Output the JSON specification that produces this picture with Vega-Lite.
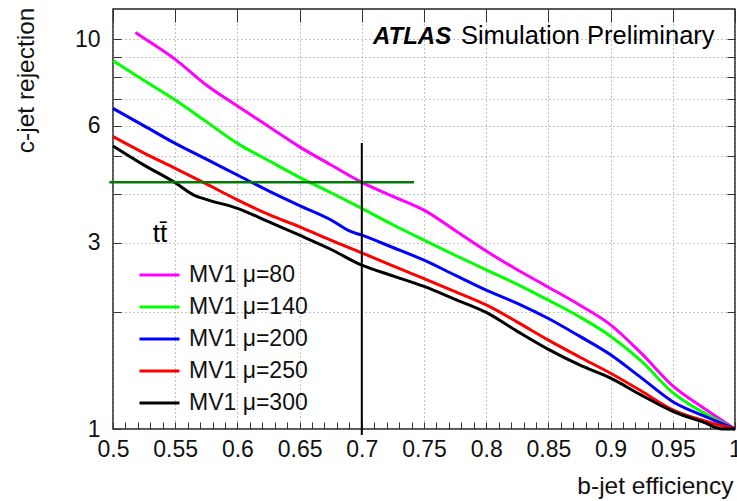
{
  "$schema": "https://vega.github.io/schema/vega-lite/v6.json",
  "width": 622,
  "height": 420,
  "padding": {"left": 12, "top": 7, "right": 0, "bottom": 3},
  "background": "white",
  "config": {
    "view": {"stroke": "#222", "strokeWidth": 1.5},
    "font": "Liberation Sans",
    "axis": {
      "labelFont": "Liberation Sans",
      "labelFontSize": 23,
      "labelColor": "#111",
      "titleFont": "Liberation Sans",
      "titleFontSize": 24.5,
      "titleFontWeight": "normal",
      "titleColor": "#111"
    }
  },
  "datasets": {
    "curves": [
      {"s": "MV1 μ=80", "x": 0.518, "y": 10.4},
      {"s": "MV1 μ=80", "x": 0.525, "y": 10.05},
      {"s": "MV1 μ=80", "x": 0.55, "y": 8.87},
      {"s": "MV1 μ=80", "x": 0.575, "y": 7.62},
      {"s": "MV1 μ=80", "x": 0.6, "y": 6.73},
      {"s": "MV1 μ=80", "x": 0.625, "y": 5.97},
      {"s": "MV1 μ=80", "x": 0.65, "y": 5.29},
      {"s": "MV1 μ=80", "x": 0.675, "y": 4.76},
      {"s": "MV1 μ=80", "x": 0.7, "y": 4.29},
      {"s": "MV1 μ=80", "x": 0.725, "y": 3.95},
      {"s": "MV1 μ=80", "x": 0.75, "y": 3.64},
      {"s": "MV1 μ=80", "x": 0.775, "y": 3.23},
      {"s": "MV1 μ=80", "x": 0.8, "y": 2.86},
      {"s": "MV1 μ=80", "x": 0.825, "y": 2.56},
      {"s": "MV1 μ=80", "x": 0.85, "y": 2.31},
      {"s": "MV1 μ=80", "x": 0.875, "y": 2.08},
      {"s": "MV1 μ=80", "x": 0.9, "y": 1.85},
      {"s": "MV1 μ=80", "x": 0.925, "y": 1.56},
      {"s": "MV1 μ=80", "x": 0.95, "y": 1.29},
      {"s": "MV1 μ=80", "x": 0.975, "y": 1.13},
      {"s": "MV1 μ=80", "x": 1.0, "y": 1.0},
      {"s": "MV1 μ=140", "x": 0.5, "y": 8.8},
      {"s": "MV1 μ=140", "x": 0.525, "y": 7.83},
      {"s": "MV1 μ=140", "x": 0.55, "y": 6.98},
      {"s": "MV1 μ=140", "x": 0.575, "y": 6.14},
      {"s": "MV1 μ=140", "x": 0.6, "y": 5.4},
      {"s": "MV1 μ=140", "x": 0.625, "y": 4.88},
      {"s": "MV1 μ=140", "x": 0.65, "y": 4.42},
      {"s": "MV1 μ=140", "x": 0.675, "y": 4.04},
      {"s": "MV1 μ=140", "x": 0.7, "y": 3.68},
      {"s": "MV1 μ=140", "x": 0.725, "y": 3.34},
      {"s": "MV1 μ=140", "x": 0.75, "y": 3.05},
      {"s": "MV1 μ=140", "x": 0.775, "y": 2.79},
      {"s": "MV1 μ=140", "x": 0.8, "y": 2.56},
      {"s": "MV1 μ=140", "x": 0.825, "y": 2.35},
      {"s": "MV1 μ=140", "x": 0.85, "y": 2.14},
      {"s": "MV1 μ=140", "x": 0.875, "y": 1.94},
      {"s": "MV1 μ=140", "x": 0.9, "y": 1.73},
      {"s": "MV1 μ=140", "x": 0.925, "y": 1.49},
      {"s": "MV1 μ=140", "x": 0.95, "y": 1.24},
      {"s": "MV1 μ=140", "x": 0.975, "y": 1.1},
      {"s": "MV1 μ=140", "x": 1.0, "y": 1.0},
      {"s": "MV1 μ=200", "x": 0.5, "y": 6.64},
      {"s": "MV1 μ=200", "x": 0.525, "y": 5.99},
      {"s": "MV1 μ=200", "x": 0.55, "y": 5.4},
      {"s": "MV1 μ=200", "x": 0.575, "y": 4.92},
      {"s": "MV1 μ=200", "x": 0.6, "y": 4.48},
      {"s": "MV1 μ=200", "x": 0.625, "y": 4.08},
      {"s": "MV1 μ=200", "x": 0.65, "y": 3.74},
      {"s": "MV1 μ=200", "x": 0.675, "y": 3.44},
      {"s": "MV1 μ=200", "x": 0.69, "y": 3.22},
      {"s": "MV1 μ=200", "x": 0.7, "y": 3.14},
      {"s": "MV1 μ=200", "x": 0.725, "y": 2.92},
      {"s": "MV1 μ=200", "x": 0.75, "y": 2.71},
      {"s": "MV1 μ=200", "x": 0.775, "y": 2.48},
      {"s": "MV1 μ=200", "x": 0.8, "y": 2.27},
      {"s": "MV1 μ=200", "x": 0.825, "y": 2.1},
      {"s": "MV1 μ=200", "x": 0.85, "y": 1.92},
      {"s": "MV1 μ=200", "x": 0.875, "y": 1.73},
      {"s": "MV1 μ=200", "x": 0.9, "y": 1.55},
      {"s": "MV1 μ=200", "x": 0.925, "y": 1.35},
      {"s": "MV1 μ=200", "x": 0.95, "y": 1.175},
      {"s": "MV1 μ=200", "x": 0.975, "y": 1.08},
      {"s": "MV1 μ=200", "x": 1.0, "y": 1.0},
      {"s": "MV1 μ=250", "x": 0.5, "y": 5.62},
      {"s": "MV1 μ=250", "x": 0.525, "y": 5.1},
      {"s": "MV1 μ=250", "x": 0.55, "y": 4.66},
      {"s": "MV1 μ=250", "x": 0.575, "y": 4.25},
      {"s": "MV1 μ=250", "x": 0.6, "y": 3.87},
      {"s": "MV1 μ=250", "x": 0.625, "y": 3.55},
      {"s": "MV1 μ=250", "x": 0.65, "y": 3.3},
      {"s": "MV1 μ=250", "x": 0.675, "y": 3.05},
      {"s": "MV1 μ=250", "x": 0.7, "y": 2.83},
      {"s": "MV1 μ=250", "x": 0.725, "y": 2.62},
      {"s": "MV1 μ=250", "x": 0.75, "y": 2.43},
      {"s": "MV1 μ=250", "x": 0.775, "y": 2.25},
      {"s": "MV1 μ=250", "x": 0.8, "y": 2.08},
      {"s": "MV1 μ=250", "x": 0.825, "y": 1.88},
      {"s": "MV1 μ=250", "x": 0.85, "y": 1.69},
      {"s": "MV1 μ=250", "x": 0.875, "y": 1.53},
      {"s": "MV1 μ=250", "x": 0.9, "y": 1.39},
      {"s": "MV1 μ=250", "x": 0.925, "y": 1.25},
      {"s": "MV1 μ=250", "x": 0.95, "y": 1.12},
      {"s": "MV1 μ=250", "x": 0.975, "y": 1.05},
      {"s": "MV1 μ=250", "x": 1.0, "y": 1.0},
      {"s": "MV1 μ=300", "x": 0.5, "y": 5.32},
      {"s": "MV1 μ=300", "x": 0.525, "y": 4.75},
      {"s": "MV1 μ=300", "x": 0.55, "y": 4.28},
      {"s": "MV1 μ=300", "x": 0.565, "y": 3.98},
      {"s": "MV1 μ=300", "x": 0.576, "y": 3.87},
      {"s": "MV1 μ=300", "x": 0.6, "y": 3.68},
      {"s": "MV1 μ=300", "x": 0.625, "y": 3.4},
      {"s": "MV1 μ=300", "x": 0.65, "y": 3.14},
      {"s": "MV1 μ=300", "x": 0.675, "y": 2.89},
      {"s": "MV1 μ=300", "x": 0.7, "y": 2.63},
      {"s": "MV1 μ=300", "x": 0.725, "y": 2.47},
      {"s": "MV1 μ=300", "x": 0.75, "y": 2.32},
      {"s": "MV1 μ=300", "x": 0.775, "y": 2.15},
      {"s": "MV1 μ=300", "x": 0.8, "y": 1.99},
      {"s": "MV1 μ=300", "x": 0.825, "y": 1.78},
      {"s": "MV1 μ=300", "x": 0.85, "y": 1.6},
      {"s": "MV1 μ=300", "x": 0.875, "y": 1.46},
      {"s": "MV1 μ=300", "x": 0.9, "y": 1.35},
      {"s": "MV1 μ=300", "x": 0.925, "y": 1.22},
      {"s": "MV1 μ=300", "x": 0.95, "y": 1.11},
      {"s": "MV1 μ=300", "x": 0.975, "y": 1.04},
      {"s": "MV1 μ=300", "x": 0.99, "y": 1.0},
      {"s": "MV1 μ=300", "x": 1.0, "y": 1.0}
    ],
    "hline": [{"x1": 0.497, "x2": 0.742, "y": 4.29}],
    "vline": [{"x": 0.7, "y1": 0.965, "y2": 5.41}],
    "atlas": [{"x": 0.709, "y": 9.71, "t": "ATLAS"}],
    "sim": [{"x": 0.7797, "y": 9.71, "t": "Simulation Preliminary"}],
    "ttbar": [{"x": 0.532, "y": 3.02, "t": "tt̄"}]
  },
  "resolve": {"axis": {"x": "independent", "y": "independent"}},
  "layer": [
    {
      "data": {"name": "curves"},
      "mark": {"type": "line", "strokeWidth": 3, "interpolate": "monotone"},
      "encoding": {
        "x": {
          "field": "x", "type": "quantitative",
          "scale": {"domain": [0.5, 1], "nice": false, "zero": false},
          "axis": {
            "orient": "bottom",
            "values": [0.5,0.51,0.52,0.53,0.54,0.55,0.56,0.57,0.58,0.59,0.6,0.61,0.62,0.63,0.64,0.65,0.66,0.67,0.68,0.69,0.7,0.71,0.72,0.73,0.74,0.75,0.76,0.77,0.78,0.79,0.8,0.81,0.82,0.83,0.84,0.85,0.86,0.87,0.88,0.89,0.9,0.91,0.92,0.93,0.94,0.95,0.96,0.97,0.98,0.99,1.0],
            "labelExpr": "abs(datum.value*20-round(datum.value*20))<1e-6 ? format(datum.value,'~g') : ''",
            "labelFlush": false,
            "labelOverlap": false,
            "labelBaseline": "top",
            "domain": false,
            "tickSize": -7,
            "tickColor": "#333",
            "labelPadding": 16,
            "grid": false,
            "title": "b-jet efficiency",
            "titleAlign": "right",
            "titleAngle": 0,
            "titleBaseline": "alphabetic",
            "titleX": 620,
            "titleY": 64
          }
        },
        "y": {
          "field": "y", "type": "quantitative",
          "scale": {"type": "log", "domain": [1, 11.94], "nice": false},
          "axis": {
            "orient": "left",
            "values": [1,2,3,4,5,6,7,8,9,10],
            "labelExpr": "(datum.value==1||datum.value==3||datum.value==6||datum.value==10) ? format(datum.value,'d') : ''",
            "labelFlush": false,
            "labelOverlap": false,
            "labelAlign": "right",
            "labelBaseline": "middle",
            "domain": false,
            "tickSize": -8,
            "tickColor": "#333",
            "labelPadding": 21,
            "grid": true,
            "gridColor": "#888",
            "gridDash": [1, 3],
            "title": "c-jet rejection",
            "titleAngle": -90,
            "titleAlign": "right",
            "titleBaseline": "alphabetic",
            "titleX": -80,
            "titleY": -2
          }
        },
        "color": {
          "field": "s", "type": "nominal",
          "scale": {
            "domain": ["MV1 μ=80", "MV1 μ=140", "MV1 μ=200", "MV1 μ=250", "MV1 μ=300"],
            "range": ["#ff00ff", "#00ff00", "#0000ff", "#ff0000", "#000000"]
          },
          "legend": {
            "orient": "none",
            "legendX": 25,
            "legendY": 250,
            "title": null,
            "symbolType": "stroke",
            "symbolSize": 1600,
            "symbolStrokeWidth": 3,
            "labelFont": "Liberation Sans",
            "labelFontSize": 23,
            "labelColor": "#111",
            "labelOffset": 8,
            "labelLimit": 0,
            "clipHeight": 32,
            "rowPadding": 0,
            "padding": 0
          }
        }
      }
    },
    {
      "data": {"name": "hline"},
      "mark": {"type": "rule", "color": "#007a00", "strokeWidth": 2.5},
      "encoding": {
        "x": {
          "field": "x1", "type": "quantitative",
          "axis": {
            "orient": "top",
            "values": [0.5,0.55,0.6,0.65,0.7,0.75,0.8,0.85,0.9,0.95,1.0],
            "labels": false, "domain": false, "title": null,
            "tickSize": -13, "tickColor": "#333",
            "grid": true, "gridColor": "#888", "gridDash": [1, 3]
          }
        },
        "x2": {"field": "x2"},
        "y": {
          "field": "y", "type": "quantitative", "scale": {"type": "log"},
          "axis": {
            "orient": "right",
            "values": [1,2,3,4,5,6,7,8,9,10],
            "labels": false, "grid": false, "domain": false, "title": null,
            "tickSize": -8, "tickColor": "#333"
          }
        }
      }
    },
    {
      "data": {"name": "vline"},
      "mark": {"type": "rule", "color": "#000000", "strokeWidth": 2},
      "encoding": {
        "x": {"field": "x", "type": "quantitative", "axis": null},
        "y": {"field": "y1", "type": "quantitative", "scale": {"type": "log"}, "axis": null},
        "y2": {"field": "y2"}
      }
    },
    {
      "data": {"name": "atlas"},
      "mark": {"type": "text", "align": "left", "baseline": "alphabetic", "font": "Liberation Sans", "fontSize": 24, "fontWeight": "bold", "fontStyle": "italic", "color": "#000"},
      "encoding": {
        "x": {"field": "x", "type": "quantitative", "axis": null},
        "y": {"field": "y", "type": "quantitative", "scale": {"type": "log"}, "axis": null},
        "text": {"field": "t"}
      }
    },
    {
      "data": {"name": "sim"},
      "mark": {"type": "text", "align": "left", "baseline": "alphabetic", "font": "Liberation Sans", "fontSize": 25.5, "color": "#000"},
      "encoding": {
        "x": {"field": "x", "type": "quantitative", "axis": null},
        "y": {"field": "y", "type": "quantitative", "scale": {"type": "log"}, "axis": null},
        "text": {"field": "t"}
      }
    },
    {
      "data": {"name": "ttbar"},
      "mark": {"type": "text", "align": "left", "baseline": "alphabetic", "font": "Liberation Sans", "fontSize": 26, "color": "#000"},
      "encoding": {
        "x": {"field": "x", "type": "quantitative", "axis": null},
        "y": {"field": "y", "type": "quantitative", "scale": {"type": "log"}, "axis": null},
        "text": {"field": "t"}
      }
    }
  ]
}
